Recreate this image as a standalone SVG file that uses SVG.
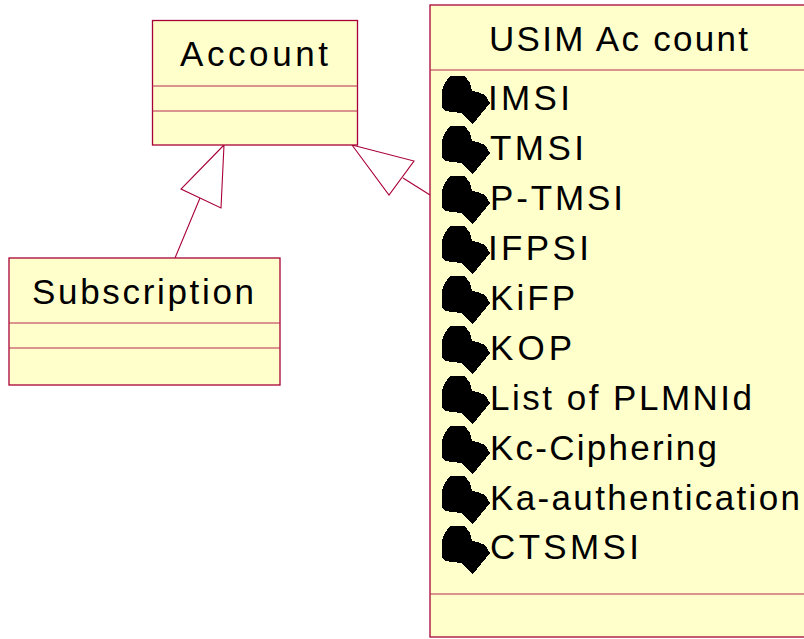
<svg xmlns="http://www.w3.org/2000/svg" width="804" height="639" viewBox="0 0 804 639">
<style>
.box{fill:#ffffcc;stroke:#a80036;stroke-width:1.3}
.div{stroke:#b8294f;stroke-width:1.2;fill:none}
.line{stroke:#a80036;stroke-width:1.1;fill:none}
.tri{stroke:#a80036;stroke-width:1.1;fill:#fff}
text{font-family:"Liberation Sans",Arial,sans-serif;font-size:35px;fill:#000}
</style>
<defs>
<polygon id="blob" shape-rendering="crispEdges" fill="#000" points="450,76 465,76 470,83 472,91 478,92 485,95 490,103 473,124 461,113 445,111 442,107 442,90 445,83 447,80"/>
</defs>
<g id="connectors">
<line class="line" x1="175" y1="258" x2="200" y2="198"/>
<polygon class="tri" points="224,145 181,189 221,208"/>
<line class="line" x1="430" y1="195" x2="403" y2="178"/>
<polygon class="tri" points="352,145 414,161 389,195"/>
</g>
<g id="account">
<rect class="box" x="152.5" y="20.5" width="205" height="124.500"/>
<line class="div" x1="152.500" y1="86" x2="357.500" y2="86"/>
<line class="div" x1="152.500" y1="111" x2="357.500" y2="111"/>
<text x="180" y="65.500" textLength="148" lengthAdjust="spacing">Account</text>
</g>
<g id="subscription">
<rect class="box" x="9" y="258" width="271" height="127"/>
<line class="div" x1="9" y1="323" x2="280" y2="323"/>
<line class="div" x1="9" y1="348" x2="280" y2="348"/>
<text x="32" y="303.500" textLength="222" lengthAdjust="spacing">Subscription</text>
</g>
<g id="usim-account">
<rect class="box" x="430" y="5" width="380" height="632"/>
<line class="div" x1="430" y1="70" x2="804" y2="70"/>
<line class="div" x1="430" y1="594" x2="804" y2="594"/>
<text x="489" y="50.500" textLength="259" lengthAdjust="spacing">USIM Ac count</text>
<use href="#blob"/><text x="488" y="109.500" textLength="82" lengthAdjust="spacing">IMSI</text>
<use href="#blob" y="50"/><text x="490" y="159.500" textLength="94" lengthAdjust="spacing">TMSI</text>
<use href="#blob" y="100"/><text x="490" y="209.500" textLength="133" lengthAdjust="spacing">P-TMSI</text>
<use href="#blob" y="150"/><text x="488" y="259.500" textLength="101" lengthAdjust="spacing">IFPSI</text>
<use href="#blob" y="200"/><text x="490" y="309.500" textLength="85" lengthAdjust="spacing">KiFP</text>
<use href="#blob" y="250"/><text x="490" y="359.500" textLength="82" lengthAdjust="spacing">KOP</text>
<use href="#blob" y="300"/><text x="490" y="409.500" textLength="262" lengthAdjust="spacing">List of PLMNId</text>
<use href="#blob" y="350"/><text x="490" y="459.500" textLength="227" lengthAdjust="spacing">Kc-Ciphering</text>
<use href="#blob" y="400"/><text x="490" y="509.500" textLength="310" lengthAdjust="spacing">Ka-authentication</text>
<use href="#blob" y="450"/><text x="490" y="558.500" textLength="149" lengthAdjust="spacing">CTSMSI</text>
</g>
</svg>
